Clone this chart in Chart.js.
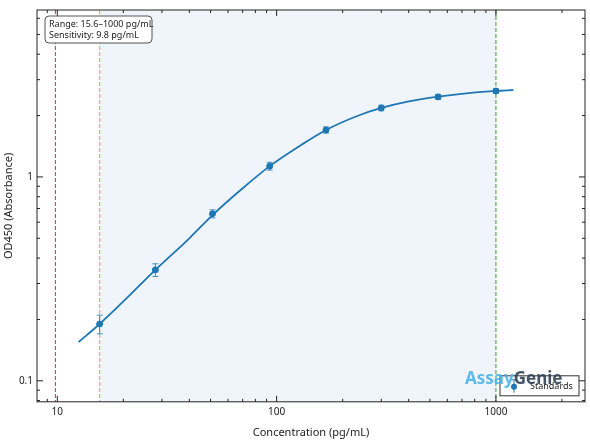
<!DOCTYPE html>
<html><head><meta charset="utf-8">
<script src="https://cdn.jsdelivr.net/npm/chart.js@4.4.1/dist/chart.umd.min.js"></script>
<style>html,body{margin:0;padding:0;background:#fff}#w{width:590px;height:441px}</style>
</head><body><div id="w"><canvas id="c"></canvas></div>
<script>
const stdConc = [15.6, 28, 51, 93, 168, 300, 545, 1000];
const stdOD = [0.19, 0.35, 0.66, 1.13, 1.70, 2.18, 2.47, 2.64];
const stdErr = [0.02, 0.025, 0.03, 0.05, 0.06, 0.07, 0.07, 0.07];
const curveConc = [12.5, 15.6, 20, 28, 40, 51, 70, 93, 130, 168, 230, 300, 400, 545, 750, 1000, 1200];
const curveOD = [0.155, 0.19, 0.245, 0.35, 0.50, 0.65, 0.88, 1.13, 1.44, 1.70, 1.98, 2.18, 2.35, 2.48, 2.58, 2.64, 2.67];
const sensitivity = 9.8, rangeLo = 15.6, rangeHi = 1000;
const rangeText = ["Range: 15.6–1000 pg/mL", "Sensitivity: 9.8 pg/mL"];
const xTickLabels = [10, 100, 1000];
const yTickLabels = [0.1, 1];
const FONT = "'Noto Sans', sans-serif";
const blue = '#1f77b4';

const deco = {
  id: 'deco',
  beforeDatasetsDraw(ch) {
    const {ctx, chartArea: a, scales: {x, y}} = ch;
    ctx.save();
    ctx.fillStyle = 'rgba(31,119,180,0.07)';
    const x0 = x.getPixelForValue(rangeLo), x1 = x.getPixelForValue(rangeHi);
    ctx.fillRect(x0, a.top, x1 - x0, a.bottom - a.top);
    ctx.setLineDash([4, 2]); ctx.lineWidth = 1;
    [[sensitivity, '#d62750'], [rangeLo, '#f0a030'], [rangeHi, '#2ca02c']].forEach(([v, c]) => {
      const p = x.getPixelForValue(v);
      ctx.strokeStyle = c; ctx.beginPath(); ctx.moveTo(p, a.top); ctx.lineTo(p, a.bottom); ctx.stroke();
    });
    ctx.restore();
  },
  afterDatasetsDraw(ch) {
    const {ctx, chartArea: a, scales: {x, y}} = ch;
    ctx.save();
    ctx.strokeStyle = blue; ctx.lineWidth = 0.8;
    stdConc.forEach((c, i) => {
      const px = x.getPixelForValue(c), t = y.getPixelForValue(stdOD[i] + stdErr[i]), b = y.getPixelForValue(stdOD[i] - stdErr[i]);
      ctx.beginPath(); ctx.moveTo(px, t); ctx.lineTo(px, b);
      ctx.moveTo(px - 3, t); ctx.lineTo(px + 3, t); ctx.moveTo(px - 3, b); ctx.lineTo(px + 3, b); ctx.stroke();
    });
    ctx.strokeStyle = '#222'; ctx.lineWidth = 1;
    ctx.strokeRect(a.left, a.top, a.right - a.left, a.bottom - a.top);
    const xt = [], yt = [];
    for (let d = 1; d <= 1000; d *= 10) for (let k = 1; k < 10; k++) xt.push([d * k, k === 1]);
    for (let d = 0.01; d <= 10; d *= 10) for (let k = 1; k < 10; k++) yt.push([d * k, k === 1]);
    ctx.beginPath();
    xt.forEach(([v, maj]) => {
      if (v < x.min || v > x.max) return;
      const p = x.getPixelForValue(v), L = maj ? 6 : 3;
      ctx.moveTo(p, a.bottom); ctx.lineTo(p, a.bottom - L); ctx.moveTo(p, a.top); ctx.lineTo(p, a.top + L);
    });
    yt.forEach(([v, maj]) => {
      if (v < y.min || v > y.max) return;
      const p = y.getPixelForValue(v), L = maj ? 6 : 3;
      ctx.moveTo(a.left, p); ctx.lineTo(a.left + L, p); ctx.moveTo(a.right, p); ctx.lineTo(a.right - L, p);
    });
    ctx.stroke();
    ctx.font = '9px ' + FONT;
    const bx = a.left + 8, by = a.top + 6, bw = 107, bh = 27;
    ctx.fillStyle = '#fff'; ctx.strokeStyle = '#555';
    ctx.beginPath(); ctx.roundRect(bx, by, bw, bh, 4); ctx.fill(); ctx.stroke();
    ctx.fillStyle = '#222'; ctx.textBaseline = 'middle';
    ctx.fillText(rangeText[0], bx + 4, by + 8); ctx.fillText(rangeText[1], bx + 4, by + 19);
    const lx = a.right - 85, ly = a.bottom - 26, lw = 79, lh = 20;
    ctx.fillStyle = '#fff'; ctx.strokeStyle = '#333';
    ctx.fillRect(lx, ly, lw, lh); ctx.strokeRect(lx, ly, lw, lh);
    ctx.fillStyle = blue; ctx.strokeStyle = blue;
    ctx.beginPath(); ctx.arc(lx + 14, ly + 11, 3, 0, 7); ctx.fill();
    ctx.beginPath(); ctx.moveTo(lx + 14, ly + 4); ctx.lineTo(lx + 14, ly + 17); ctx.moveTo(lx + 11, ly + 4); ctx.lineTo(lx + 17, ly + 4); ctx.stroke();
    ctx.fillStyle = '#222'; ctx.font = '9px ' + FONT;
    ctx.fillText('Standards', lx + 30, ly + 11);
    ctx.font = 'bold 17px ' + FONT; ctx.textBaseline = 'alphabetic';
    const gx = a.right - 120, gy = a.bottom - 18;
    ctx.fillStyle = 'rgba(79,179,232,0.9)'; ctx.fillText('Assay', gx, gy);
    const w = ctx.measureText('Assay').width;
    ctx.fillStyle = 'rgba(50,65,85,0.9)'; ctx.fillText('Genie', gx + w, gy);
    ctx.restore();
  }
};

new Chart(document.getElementById('c'), {
  type: 'scatter',
  data: { datasets: [
    { data: curveConc.map((c, i) => ({x: c, y: curveOD[i]})), showLine: true, borderColor: blue, borderWidth: 1.8, pointRadius: 0, cubicInterpolationMode: 'monotone', fill: false },
    { data: stdConc.map((c, i) => ({x: c, y: stdOD[i]})), pointRadius: 3, backgroundColor: blue, borderColor: blue }
  ]},
  plugins: [deco],
  options: {
    responsive: true, maintainAspectRatio: false, animation: false,
    layout: { padding: { top: 8, right: 5, left: 2, bottom: 2 } },
    plugins: { legend: { display: false }, tooltip: { enabled: false } },
    scales: {
      x: { type: 'logarithmic', min: 8.08, max: 2547, grid: { display: false, drawTicks: false }, border: { display: false },
        afterBuildTicks: s => { s.ticks = xTickLabels.map(v => ({value: v})); },
        ticks: { color: '#222', padding: 4, font: { family: FONT, size: 10 }, callback: v => String(v), maxRotation: 0 },
        title: { display: true, text: 'Concentration (pg/mL)', color: '#222', font: { family: FONT, size: 11 }, padding: {top: 4, bottom: 0} } },
      y: { type: 'logarithmic', min: 0.0789, max: 6.59, grid: { display: false, drawTicks: false }, border: { display: false },
        afterBuildTicks: s => { s.ticks = yTickLabels.map(v => ({value: v})); },
        afterFit: s => { s.width = 35; },
        ticks: { color: '#222', padding: 4, font: { family: FONT, size: 10 }, callback: v => String(v) },
        title: { display: true, text: 'OD450 (Absorbance)', color: '#222', font: { family: FONT, size: 11 }, padding: 0 } }
    }
  }
});
</script></body></html>
